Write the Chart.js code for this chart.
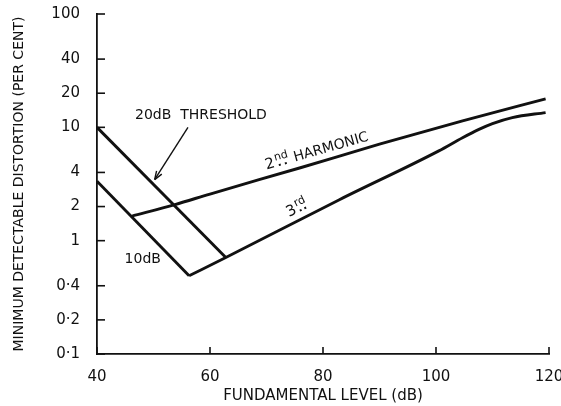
<!DOCTYPE html>
<html>
<head>
<meta charset="utf-8">
<script src="https://cdn.jsdelivr.net/npm/chart.js@4/dist/chart.umd.min.js"></script>
<style>
  html, body { margin: 0; padding: 0; background: #fff; overflow: hidden; }
  #wrap { width: 561px; height: 406px; }
</style>
</head>
<body>
<div id="wrap"><canvas id="distortion"></canvas></div>
<script>
// tick values / labels
const xTickValues = [40, 60, 80, 100, 120];
const yTickValues = [0.1, 0.2, 0.4, 1, 2, 4, 10, 20, 40, 100];
const yTickLabels = ["0·1", "0·2", "0·4", "1", "2", "4", "10", "20", "40", "100"];

// threshold lines
const thresh20X = [40, 62.8];
const thresh20Y = [10, 0.71];
const thresh10X = [40, 56.3];
const thresh10Y = [3.35, 0.49];

// harmonics
const secondX = [46.1, 53.8, 60, 76, 90, 104.7, 119.4];
const secondY = [1.64, 2.08, 2.58, 4.4, 7.1, 11.4, 17.8];
const thirdX = [56.3, 62.8, 82.9, 100.5, 104.7, 107.6, 110, 113.5, 119.4];
const thirdY = [0.49, 0.71, 2.3, 6.2, 8.1, 9.6, 10.8, 12.2, 13.5];

const FONT = "'DejaVu Sans', sans-serif";
const INK = "#111";

const pts = (xs, ys) => xs.map((v, i) => ({ x: v, y: ys[i] }));

function lineSet(label, xs, ys, smooth) {
  return {
    label,
    data: pts(xs, ys),
    borderColor: INK,
    borderWidth: 2.9,
    pointRadius: 0,
    fill: false,
    cubicInterpolationMode: smooth ? "monotone" : "default",
    tension: 0,
  };
}

// draws "2nd" style text with raised suffix and dots under it
function ordinalText(ctx, base, sup, rest, px, py, angle) {
  ctx.save();
  ctx.translate(px, py);
  ctx.rotate(angle);
  ctx.textBaseline = "alphabetic";
  ctx.textAlign = "left";
  ctx.font = "15px " + FONT;
  ctx.fillText(base, 0, 0);
  let cx = ctx.measureText(base).width + 1;
  ctx.font = "11px " + FONT;
  ctx.fillText(sup, cx, -6);
  const sw = ctx.measureText(sup).width;
  ctx.fillRect(cx + sw * 0.25 - 1, -1.8, 2, 2);
  ctx.fillRect(cx + sw * 0.7 - 1, -1.8, 2, 2);
  cx += sw + 5;
  if (rest) {
    ctx.font = "14px " + FONT;
    ctx.fillText(rest, cx, 0);
  }
  ctx.restore();
}

const sketchPlugin = {
  id: "sketch",
  afterDraw(chart) {
    const { ctx, scales: { x, y } } = chart;
    ctx.save();
    ctx.strokeStyle = INK;
    ctx.fillStyle = INK;
    ctx.lineWidth = 1.6;

    // inward tick marks
    yTickValues.forEach(v => {
      const py = y.getPixelForValue(v);
      ctx.beginPath();
      ctx.moveTo(x.left, py);
      ctx.lineTo(x.left + 8, py);
      ctx.stroke();
    });
    xTickValues.forEach(v => {
      const px = x.getPixelForValue(v);
      ctx.beginPath();
      ctx.moveTo(px, y.bottom);
      ctx.lineTo(px, y.bottom - 7);
      ctx.stroke();
    });

    // 20 dB threshold label + arrow
    ctx.font = "14px " + FONT;
    ctx.textAlign = "center";
    ctx.textBaseline = "middle";
    ctx.fillText("20dB  THRESHOLD", x.getPixelForValue(58.4), y.getPixelForValue(12.8));

    const ax0 = x.getPixelForValue(56.1), ay0 = y.getPixelForValue(10.0);
    const ax1 = x.getPixelForValue(50.2), ay1 = y.getPixelForValue(3.46);
    ctx.lineWidth = 1.4;
    ctx.beginPath();
    ctx.moveTo(ax0, ay0);
    ctx.lineTo(ax1, ay1);
    ctx.stroke();
    const ang = Math.atan2(ay1 - ay0, ax1 - ax0);
    ctx.beginPath();
    ctx.moveTo(ax1, ay1);
    ctx.lineTo(ax1 - 9 * Math.cos(ang - 0.35), ay1 - 9 * Math.sin(ang - 0.35));
    ctx.moveTo(ax1, ay1);
    ctx.lineTo(ax1 - 9 * Math.cos(ang + 0.35), ay1 - 9 * Math.sin(ang + 0.35));
    ctx.stroke();

    // 10 dB label
    ctx.fillText("10dB", x.getPixelForValue(48.1), y.getPixelForValue(0.69));

    // 2nd harmonic label along its line
    const n = secondX.length - 1;
    const a2 = Math.atan2(
      y.getPixelForValue(secondY[n]) - y.getPixelForValue(secondY[0]),
      x.getPixelForValue(secondX[n]) - x.getPixelForValue(secondX[0]));
    ordinalText(ctx, "2", "nd", "HARMONIC",
      x.getPixelForValue(70.0), y.getPixelForValue(4.25), a2);

    // 3rd harmonic label
    const a3 = Math.atan2(
      y.getPixelForValue(thirdY[3]) - y.getPixelForValue(thirdY[0]),
      x.getPixelForValue(thirdX[3]) - x.getPixelForValue(thirdX[0]));
    ordinalText(ctx, "3", "rd", "",
      x.getPixelForValue(74.0), y.getPixelForValue(1.62), a3);

    ctx.restore();
  },
};

new Chart("distortion", {
  type: "line",
  data: {
    datasets: [
      lineSet("20dB threshold", thresh20X, thresh20Y, false),
      lineSet("10dB threshold", thresh10X, thresh10Y, false),
      lineSet("2nd harmonic", secondX, secondY, true),
      lineSet("3rd harmonic", thirdX, thirdY, true),
    ],
  },
  options: {
    responsive: true,
    maintainAspectRatio: false,
    animation: false,
    layout: { padding: { top: 14, right: 12, left: 0, bottom: 0 } },
    plugins: {
      legend: { display: false },
      tooltip: { enabled: false },
    },
    scales: {
      x: {
        type: "linear",
        min: 40,
        max: 120,
        afterBuildTicks: s => { s.ticks = xTickValues.map(v => ({ value: v })); },
        afterFit: s => { s.height = 52; s.paddingLeft = 0; s.paddingRight = 0; },
        grid: { display: false },
        border: { display: true, color: INK, width: 1.8 },
        ticks: { color: INK, padding: 6, font: { family: FONT, size: 15 } },
        title: {
          display: true,
          text: "FUNDAMENTAL LEVEL (dB)",
          color: INK,
          padding: { top: 0, bottom: 1 },
          font: { family: FONT, size: 15 },
        },
      },
      y: {
        type: "logarithmic",
        min: 0.1,
        max: 100,
        afterBuildTicks: s => { s.ticks = yTickValues.map(v => ({ value: v })); },
        afterFit: s => { s.width = 97; s.paddingTop = 0; s.paddingBottom = 0; },
        grid: { display: false },
        border: { display: true, color: INK, width: 1.8 },
        ticks: {
          color: INK,
          padding: 9,
          font: { family: FONT, size: 15 },
          callback: v => {
            const i = yTickValues.indexOf(v);
            return i >= 0 ? yTickLabels[i] : "";
          },
        },
        title: {
          display: true,
          text: "MINIMUM DETECTABLE DISTORTION (PER CENT)",
          color: INK,
          padding: { top: 11, bottom: 0 },
          font: { family: FONT, size: 14 },
        },
      },
    },
  },
  plugins: [sketchPlugin],
});
</script>
</body>
</html>
